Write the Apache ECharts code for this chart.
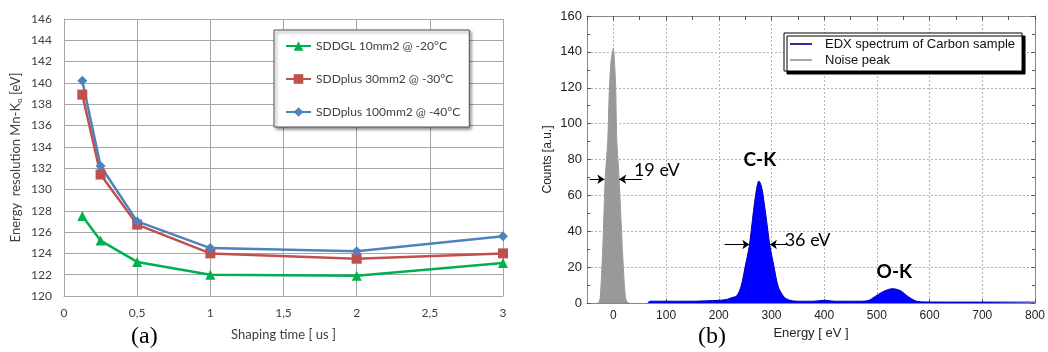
<!DOCTYPE html>
<html>
<head>
<meta charset="utf-8">
<script src="https://cdn.jsdelivr.net/npm/echarts@6/dist/echarts.min.js"></script>
<style>
  html, body { margin: 0; padding: 0; background: #fff; }
  #chart { width: 1048px; height: 352px; }
</style>
</head>
<body>
<div id="chart"></div>
<script>
// (a) energy resolution vs shaping time
const shapingTime = [0.125, 0.25, 0.5, 1, 2, 3]
const sddgl10 = [127.5, 125.2, 123.2, 122.0, 121.9, 123.1]
const sddplus30 = [138.9, 131.4, 126.7, 124.0, 123.5, 124.0]
const sddplus100 = [140.2, 132.2, 127.0, 124.5, 124.2, 125.6]

// (b) EDX spectrum
const edxEnergy = [65, 70, 100, 150, 200, 215, 225, 234, 242, 250, 258, 263, 267, 272, 276, 281, 287, 292, 297, 305, 313, 324, 335, 350, 380, 400, 420, 470, 485, 500, 515, 530, 545, 556, 565, 575, 590, 650, 700, 800]
const edxCounts = [0, 1, 1, 1, 1.5, 2, 3, 4, 9, 20, 32, 44, 54, 64, 68, 65, 54, 43, 32, 20, 9, 3.3, 1.5, 1, 1, 1.5, 1, 1, 1.5, 4.3, 6.8, 8, 6.8, 4.3, 2.5, 1, 0.6, 0.5, 0.5, 0.5]
const noiseEnergy = [-30, -27, -25, -23, -20, -15.5, -10.5, -7.5, -4, 0, 3, 4.5, 6.5, 11, 17, 20.5, 23, 26, 30]
const noiseCounts = [0, 0.5, 3, 12, 31, 69, 91, 120, 136, 142, 130, 120, 91, 69, 31, 12, 3, 0.5, 0]
const energyTicks = [0, 100, 200, 300, 400, 500, 600, 700, 800]

const chart = echarts.init(document.getElementById('chart'))

const pairs = (xs, ys) => xs.map((x, i) => [x, ys[i]])
const lineIcon = 'path://M0,0L24,0L24,2L0,2Z'
const fontA = 'Lato, "Open Sans", sans-serif'
const fontB = '"Liberation Sans", Arial, sans-serif'
const gridDots = { color: '#b4b4b4', type: [2, 2], width: 1 }

const lineSeriesA = (name, data, color, symbol, size) => ({
  name,
  type: 'line',
  xAxisIndex: 0,
  yAxisIndex: 0,
  data: pairs(shapingTime, data),
  color,
  symbol,
  symbolSize: size,
  lineStyle: { color, width: 2.5 },
  itemStyle: { color }
})

chart.setOption({
  animation: false,
  backgroundColor: '#fff',
  grid: [
    { left: 64, top: 19, width: 439, height: 277 },
    { left: 587, top: 16, width: 454, height: 287 }
  ],
  legend: [
    {
      left: 274,
      top: 30,
      orient: 'vertical',
      padding: [10, 9, 9, 11],
      itemWidth: 25,
      itemHeight: 12,
      itemGap: 21,
      backgroundColor: '#fff',
      borderColor: '#555',
      borderWidth: 1,
      shadowColor: 'rgba(0,0,0,0.45)',
      shadowBlur: 3,
      shadowOffsetX: 2,
      shadowOffsetY: 2,
      textStyle: { fontFamily: fontA, fontSize: 12, color: '#404040', lineHeight: 12 },
      data: ['SDDGL 10mm2 @ -20°C', 'SDDplus 30mm2 @ -30°C', 'SDDplus 100mm2 @ -40°C']
    },
    {
      left: 784,
      top: 33,
      orient: 'vertical',
      padding: [4, 7, 4, 6],
      itemWidth: 22,
      itemHeight: 10,
      itemGap: 2,
      backgroundColor: '#fff',
      borderColor: '#000',
      borderWidth: 1,
      shadowColor: '#000',
      shadowBlur: 0,
      shadowOffsetX: 3,
      shadowOffsetY: 3,
      textStyle: { fontFamily: fontB, fontSize: 13, color: '#111', lineHeight: 14, padding: [0, 0, 0, 8] },
      data: [
        { name: 'EDX spectrum of Carbon sample', icon: lineIcon },
        { name: 'Noise peak', icon: lineIcon }
      ]
    }
  ],
  xAxis: [
    {
      gridIndex: 0,
      type: 'value',
      min: 0,
      max: 3,
      interval: 0.5,
      name: 'Shaping time [ us ]',
      nameLocation: 'middle',
      nameGap: 32,
      nameTextStyle: { fontFamily: fontA, fontSize: 13, color: '#404040' },
      axisLine: { onZero: false, lineStyle: { color: '#a6a6a6', width: 1 } },
      axisTick: { show: false },
      axisLabel: {
        margin: 11,
        fontFamily: fontA,
        fontSize: 12,
        color: '#404040',
        formatter: v => String(v).replace('.', ',')
      },
      splitLine: { show: true, lineStyle: { color: '#a6a6a6', width: 1 } }
    },
    {
      gridIndex: 1,
      type: 'value',
      min: -50,
      max: 800,
      interval: 50,
      name: 'Energy [ eV ]',
      nameLocation: 'middle',
      nameGap: 24,
      nameTextStyle: { fontFamily: fontB, fontSize: 13, color: '#222' },
      axisLine: { onZero: false, lineStyle: { color: '#888' } },
      axisTick: { show: true, inside: true, length: 4, customValues: energyTicks, lineStyle: { color: '#555' } },
      axisLabel: { customValues: energyTicks, margin: 7, fontFamily: fontB, fontSize: 12, color: '#222' },
      splitLine: { show: true, lineStyle: gridDots }
    },
    {
      gridIndex: 1,
      type: 'value',
      position: 'top',
      min: -50,
      max: 800,
      interval: 50,
      axisLine: { show: true, onZero: false, lineStyle: { color: '#888' } },
      axisTick: { show: true, inside: true, length: 4, lineStyle: { color: '#555' } },
      axisLabel: { show: false },
      splitLine: { show: false }
    }
  ],
  yAxis: [
    {
      gridIndex: 0,
      type: 'value',
      min: 120,
      max: 146,
      interval: 2,
      name: 'Energy  resolution Mn-K{sub|α} [eV]',
      nameLocation: 'middle',
      nameGap: 41,
      nameTextStyle: {
        fontFamily: fontA,
        fontSize: 13,
        color: '#404040',
        rich: { sub: { fontFamily: fontA, fontSize: 8, color: '#404040', padding: [7, 0, 0, 0] } }
      },
      axisLine: { show: true, onZero: false, lineStyle: { color: '#a6a6a6', width: 1 } },
      axisTick: { show: false },
      axisLabel: { margin: 12, fontFamily: fontA, fontSize: 12, color: '#404040' },
      splitLine: { show: true, lineStyle: { color: '#a6a6a6', width: 1 } }
    },
    {
      gridIndex: 1,
      type: 'value',
      min: 0,
      max: 160,
      interval: 20,
      name: 'Counts [a.u.]',
      nameLocation: 'middle',
      nameGap: 33,
      nameTextStyle: { fontFamily: fontB, fontSize: 12, color: '#222' },
      axisLine: { show: true, onZero: false, lineStyle: { color: '#888' } },
      axisTick: { show: true, inside: true, length: 4, lineStyle: { color: '#555' } },
      minorTick: { show: true, splitNumber: 2, length: 3, lineStyle: { color: '#555' } },
      axisLabel: { margin: 5, fontFamily: fontB, fontSize: 13, color: '#222' },
      splitLine: { show: true, lineStyle: gridDots }
    },
    {
      gridIndex: 1,
      type: 'value',
      position: 'right',
      min: 0,
      max: 160,
      interval: 20,
      axisLine: { show: true, onZero: false, lineStyle: { color: '#888' } },
      axisTick: { show: true, inside: true, length: 4, lineStyle: { color: '#555' } },
      minorTick: { show: true, splitNumber: 2, length: 3, lineStyle: { color: '#555' } },
      axisLabel: { show: false },
      splitLine: { show: false }
    }
  ],
  series: [
    lineSeriesA('SDDGL 10mm2 @ -20°C', sddgl10, '#00b050', 'triangle', 10),
    lineSeriesA('SDDplus 30mm2 @ -30°C', sddplus30, '#c0504d', 'rect', 10),
    lineSeriesA('SDDplus 100mm2 @ -40°C', sddplus100, '#4f81bd', 'diamond', 10),
    {
      name: 'EDX spectrum of Carbon sample',
      type: 'line',
      xAxisIndex: 1,
      yAxisIndex: 1,
      data: pairs(edxEnergy, edxCounts),
      color: '#1a1aa0',
      showSymbol: false,
      smooth: 0.3,
      lineStyle: { color: '#0000a8', width: 1 },
      areaStyle: { color: '#0000ff', opacity: 1 },
      markLine: {
        silent: true,
        symbol: ['none', 'arrow'],
        symbolSize: 7,
        label: { show: false },
        lineStyle: { color: '#000', width: 1, type: 'solid' },
        data: [
          [{ coord: [211, 32.6] }, { coord: [258, 32.6] }],
          [{ coord: [329, 32.6] }, { coord: [297, 32.6] }]
        ]
      },
      markPoint: {
        silent: true,
        symbol: 'circle',
        symbolSize: 0,
        data: [
          { coord: [278, 80], label: { show: true, position: 'inside', formatter: 'C-K', fontFamily: fontA, fontWeight: 'bold', fontSize: 19, color: '#000' } },
          { coord: [533, 17.3], label: { show: true, position: 'inside', formatter: 'O-K', fontFamily: fontA, fontWeight: 'bold', fontSize: 19, color: '#000' } },
          { coord: [325, 35], label: { show: true, position: 'right', distance: 0, formatter: '36 eV', fontFamily: fontA, fontSize: 18, color: '#000' } }
        ]
      }
    },
    {
      name: 'Noise peak',
      type: 'line',
      xAxisIndex: 1,
      yAxisIndex: 1,
      data: pairs(noiseEnergy, noiseCounts),
      color: '#a0a0a0',
      showSymbol: false,
      smooth: 0.2,
      lineStyle: { color: '#999', width: 1 },
      areaStyle: { color: '#999', opacity: 1 },
      markLine: {
        silent: true,
        symbol: ['none', 'arrow'],
        symbolSize: 7,
        label: { show: false },
        lineStyle: { color: '#000', width: 1, type: 'solid' },
        data: [
          [{ coord: [-45, 69] }, { coord: [-17, 69] }],
          [{ coord: [54, 69] }, { coord: [11, 69] }]
        ]
      },
      markPoint: {
        silent: true,
        symbol: 'circle',
        symbolSize: 0,
        data: [
          { coord: [39, 74], label: { show: true, position: 'right', distance: 0, formatter: '19 eV', fontFamily: fontA, fontSize: 18, color: '#000' } }
        ]
      }
    }
  ],
  graphic: [
    { type: 'text', left: 131, top: 325, style: { text: '(a)', font: '24px "Liberation Serif", serif', fill: '#000' } },
    { type: 'text', left: 698, top: 325, style: { text: '(b)', font: '24px "Liberation Serif", serif', fill: '#000' } }
  ]
})
</script>
</body>
</html>
